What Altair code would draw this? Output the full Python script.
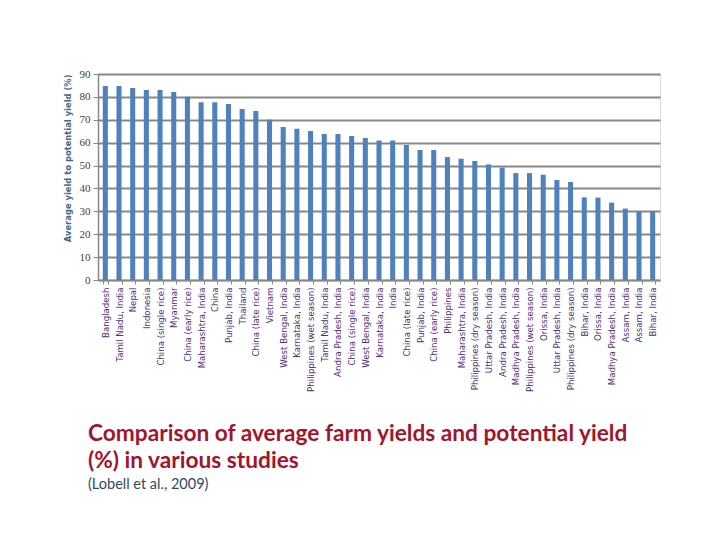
import altair as alt
import pandas as pd

labels = [
    "Bangladesh", "Tamil Nadu, India", "Nepal", "Indonesia", "China (single rice)",
    "Myanmar", "China (early rice)", "Maharashtra, India", "China", "Punjab, India",
    "Thailand", "China (late rice)", "Vietnam", "West Bengal, India", "Karnataka, India",
    "Philippines (wet season)", "Tamil Nadu, India", "Andra Pradesh, India", "China (single rice)",
    "West Bengal, India", "Karnataka, India", "India", "China (late rice)", "Punjab, India",
    "China (early rice)", "Philippines", "Maharashtra, India", "Philippines (dry season)",
    "Uttar Pradesh, India", "Andra Pradesh, India", "Madhya Pradesh, India",
    "Philippines (wet season)", "Orissa, India", "Uttar Pradesh, India",
    "Philippines (dry season)", "Bihar, India", "Orissa, India", "Madhya Pradesh, India",
    "Assam, India", "Assam, India", "Bihar, India",
]
values = [
    84.8, 84.8, 83.9, 83.0, 83.0, 82.1, 80.1, 77.7, 77.7, 76.9,
    74.7, 73.8, 70.0, 66.8, 66.1, 65.1, 63.8, 63.8, 62.9, 62.0,
    60.9, 60.9, 59.0, 56.8, 56.8, 53.7, 53.0, 52.0, 50.5, 49.1,
    46.7, 46.7, 46.0, 43.7, 42.8, 36.1, 36.0, 33.8, 31.2, 30.0, 30.0,
]
y_ticks = [0, 10, 20, 30, 40, 50, 60, 70, 80, 90]

df = pd.DataFrame({"idx": list(range(len(labels))), "label": labels, "value": values})
label_expr = "[" + ",".join('"' + l + '"' for l in labels) + "][datum.value]"

bars = alt.Chart(df).mark_bar(color="#4F81BD").encode(
    x=alt.X("idx:O", title=None,
            scale=alt.Scale(paddingInner=0.63, paddingOuter=0.35),
            axis=alt.Axis(labelExpr=label_expr, labelAngle=-90, labelAlign="right",
                          labelBaseline="middle", labelFont="DejaVu Sans", labelFontSize=8.6,
                          labelColor="#50307A", labelPadding=3, tickBand="extent",
                          tickColor="#878787", tickSize=4, domainColor="#878787",
                          domainWidth=1.5, labelOverlap=False, labelLimit=200)),
    y=alt.Y("value:Q", title="Average yield to potential yield (%)",
            scale=alt.Scale(domain=[0, 90], nice=False),
            axis=alt.Axis(values=y_ticks, labelFont="Verdana", labelFontSize=11,
                          labelColor="#404040", titleFont="DejaVu Sans", titleFontSize=8.4,
                          titleColor="#3F6A8A", titleFontWeight="bold", titlePadding=7,
                          titleAnchor="end",
                          gridColor="#878787", gridWidth=2, domainColor="#878787",
                          domainWidth=1.5, tickColor="#878787", tickSize=5, labelPadding=3)),
)

title1 = alt.Chart(alt.Data(values=[{}])).mark_text(
    text="Comparison of average farm yields and potential yield",
    font="Lato", fontSize=22.7, fontWeight="bold", color="#A3152B", align="left", baseline="alphabetic",
).encode(x=alt.value(-10), y=alt.value(367))
title2 = alt.Chart(alt.Data(values=[{}])).mark_text(
    text="(%) in various studies",
    font="Lato", fontSize=22.7, fontWeight="bold", color="#A3152B", align="left", baseline="alphabetic",
).encode(x=alt.value(-10), y=alt.value(394))
sub = alt.Chart(alt.Data(values=[{}])).mark_text(
    text="(Lobell et al., 2009)",
    font="Lato", fontSize=14.5, color="#2E4A62", align="left", baseline="alphabetic",
).encode(x=alt.value(-10), y=alt.value(415))

chart = alt.layer(bars, title1, title2, sub).properties(
    width=562, height=206,
    autosize=alt.AutoSizeParams(type="none"),
    padding={"left": 90, "top": 66, "right": 40, "bottom": 250},
).configure_view(stroke=None).configure(background="white")

chart.save("out.html", embed_options={"renderer": "svg", "actions": False})
